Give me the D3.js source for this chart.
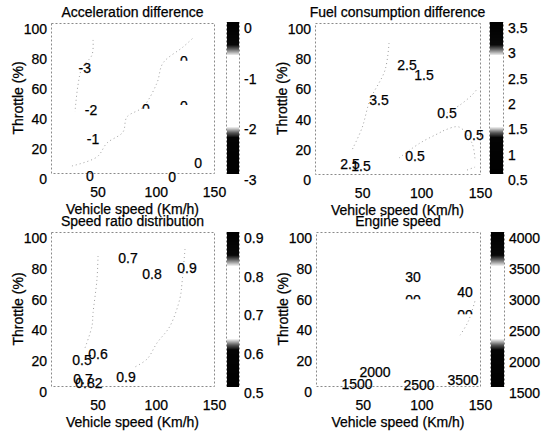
<!DOCTYPE html>
<html><head><meta charset="utf-8">
<script src="https://cdn.jsdelivr.net/npm/d3@7"></script>
<style>
html,body{margin:0;padding:0;background:#fff;}
svg{display:block;font-family:"Liberation Sans",Arial,Helvetica,sans-serif;}
</style></head>
<body><svg id="c" width="545" height="433"></svg>
<script>
// ---------- data ----------
const speedTicks = [50, 100, 150];
const throttleTicks = [0, 20, 40, 60, 80, 100];
const speedDomain = [10, 150];
const throttleDomain = [0, 100];

const titles = ["Acceleration difference", "Fuel consumption difference", "Speed ratio distribution", "Engine speed"];
const xLabel = "Vehicle speed (Km/h)";
const yLabel = "Throttle (%)";

// colour bar ranges and ticks
const cbDomainAcc = [-3, 0];
const cbTicksAcc = [0, -1, -2, -3];
const cbDomainFuel = [0.5, 3.5];
const cbTicksFuel = [3.5, 3, 2.5, 2, 1.5, 1, 0.5];
const cbDomainRatio = [0.5, 0.9];
const cbTicksRatio = [0.9, 0.8, 0.7, 0.6, 0.5];
const cbDomainEngine = [1500, 4000];
const cbTicksEngine = [4000, 3500, 3000, 2500, 2000, 1500];

// contour labels: [text, speed, throttle]
const labelsAcc = [["-3", 39, 70], ["-2", 44.4, 42], ["-1", 46.1, 22.7], ["0", 43.5, -2], ["0", 114, -2.7], ["0", 136.3, 6.7]];
const labelsAccCut = [["0", 91.6, 42.5], ["0", 124.2, 74.5], ["0", 124.2, 45]];
const labelsFuel = [["2.5", 88.1, 72.2], ["1.5", 102.5, 65.5], ["3.5", 64.3, 49], ["0.5", 122, 40.4], ["0.5", 144.9, 25.8], ["0.5", 94.9, 11.9], ["2.5", 39.7, 6.6], ["1.5", 49, 5.3]];
const labelsFuelCut = [];
const labelsRatio = [["0.7", 76.1, 83.1], ["0.8", 96.8, 72.7], ["0.9", 126.8, 76.6], ["0.5", 36.6, 16.9], ["0.6", 50.4, 20.8], ["0.7", 37.5, 4.5], ["0.82", 42.6, 1.9], ["0.9", 74.4, 5.8]];
const labelsRatioCut = [];
const labelsEngine = [["30", 92.8, 70.7], ["40", 137.2, 61], ["2000", 60.4, 9.1], ["1500", 45, 1.3], ["2500", 97.9, 0.6], ["3500", 135.5, 3.9]];
const labelsEngineCut = [["00", 92.8, 56], ["00", 137.2, 46.2]];

// faint contour lines: lists of [speed, throttle]
const linesAcc = [
  [[46.1, 88.7], [45.2, 78.7], [36.6, 70], [33.2, 58.7], [30.6, 40.7]],
  [[28, 4.7], [49.5, 10.7], [58.1, 20], [71.8, 27.3], [75.2, 37.3], [89, 44], [101, 60], [106.2, 73.3], [123.4, 84], [132, 90]]
];
const linesFuel = [
  [[72.8, 86.7], [69.4, 68.8], [56.7, 49], [49.9, 30.5], [41.4, 15.9]],
  [[81.3, 10.6], [99.1, 20.5], [115.2, 27.1], [120.3, 29.1], [132.2, 31.1], [143.2, 20.5], [145.8, 9.3]],
  [[122, 40.4], [133, 45.7], [143.2, 52.3], [148.3, 57]],
  [[139, 2.6], [145.8, 4.6]]
];
const linesRatio = [
  [[50.4, 84.4], [49.5, 69.4], [46.1, 47.4], [45.2, 38.9], [39.2, 24.7]],
  [[125.1, 88.9], [122.5, 66.8], [120.8, 57.1], [112.2, 38.9], [101, 27.9], [92.5, 17.5], [80.4, 11.7]]
];
const linesEngine = [
  [[133, 33], [140, 42], [146, 56]]
];

// ---------- layout ----------
const panels = [
  {title: titles[0], box: [51, 23, 214, 173], cb: [226, 22, 240, 174], cbDomain: cbDomainAcc, cbTicks: cbTicksAcc, labels: labelsAcc, cut: labelsAccCut, lines: linesAcc},
  {title: titles[1], box: [315, 23, 480, 174], cb: [489, 22, 504, 174], cbDomain: cbDomainFuel, cbTicks: cbTicksFuel, labels: labelsFuel, cut: labelsFuelCut, lines: linesFuel},
  {title: titles[2], box: [51, 232, 214, 386], cb: [226, 232, 240, 387], cbDomain: cbDomainRatio, cbTicks: cbTicksRatio, labels: labelsRatio, cut: labelsRatioCut, lines: linesRatio},
  {title: titles[3], box: [316, 232, 480, 386], cb: [490, 232, 505, 387], cbDomain: cbDomainEngine, cbTicks: cbTicksEngine, labels: labelsEngine, cut: labelsEngineCut, lines: linesEngine}
];

const svg = d3.select("#c");
const defs = svg.append("defs");
const gray = d3.scaleLinear()
  .domain([0, 0.24, 0.27, 0.31, 0.78, 0.82, 0.85, 1])
  .range(["#000", "#040404", "#555", "#f8f8f8", "#f8f8f8", "#666", "#080808", "#000"])
  .clamp(true);

const FS = 14;
const INK = "#000";
let clipId = 0;
function ink(sel) { return sel.attr("fill", INK).attr("stroke", INK).attr("stroke-width", 0.25); }

panels.forEach((p, pi) => {
  const [x0, y0, x1, y1] = p.box;
  const x = d3.scaleLinear().domain(speedDomain).range([x0, x1]);
  const y = d3.scaleLinear().domain(throttleDomain).range([y1, y0]);
  const g = svg.append("g");

  // plot frame
  g.append("rect").attr("x", x0 + 0.5).attr("y", y0 + 0.5).attr("width", x1 - x0).attr("height", y1 - y0)
    .attr("fill", "#fff").attr("stroke", "#8a8a8a").attr("stroke-width", 1).attr("stroke-dasharray", "2,2");

  // contour lines
  const line = d3.line().x(d => x(d[0])).y(d => y(d[1])).curve(d3.curveCatmullRom);
  g.selectAll("path.ct").data(p.lines).join("path").attr("class", "ct")
    .attr("d", line).attr("fill", "none").attr("stroke", "#a0a0a0").attr("stroke-width", 1)
    .attr("stroke-dasharray", "1,3");

  // contour labels
  g.selectAll("text.lab").data(p.labels).join("text").attr("class", "lab")
    .attr("x", d => x(d[1])).attr("y", d => y(d[2])).attr("dy", "0.36em")
    .attr("text-anchor", "middle").attr("font-size", FS).call(ink).text(d => d[0]);

  p.cut.forEach(d => {
    const id = "cut" + (clipId++);
    defs.append("clipPath").attr("id", id).append("rect")
      .attr("x", x(d[1]) - 20).attr("y", y(d[2]) - 12).attr("width", 40).attr("height", 11.5);
    g.append("text").attr("clip-path", `url(#${id})`)
      .attr("x", x(d[1])).attr("y", y(d[2])).attr("dy", "0.36em")
      .attr("text-anchor", "middle").attr("font-size", FS).call(ink).text(d[0]);
  });

  // axes
  const ax = g.append("g").attr("transform", `translate(0,${y1})`)
    .call(d3.axisBottom(x).tickValues(speedTicks).tickSize(0).tickPadding(14).tickFormat(d3.format("d")));
  ax.select(".domain").remove();
  ax.selectAll("text").attr("font-size", FS).call(ink).attr("font-family", null);

  const ay = g.append("g").attr("transform", `translate(${x0},0)`)
    .call(d3.axisLeft(y).tickValues(throttleTicks).tickSize(0).tickPadding(4).tickFormat(d3.format("d")));
  ay.select(".domain").remove();
  ay.selectAll("text").attr("font-size", FS).call(ink).attr("y", 6).attr("font-family", null);

  // titles and axis labels
  g.append("text").attr("x", (x0 + x1) / 2).attr("y", y0 - 6).attr("text-anchor", "middle")
    .attr("font-size", 14).call(ink).text(p.title);
  g.append("text").attr("x", (x0 + x1) / 2).attr("y", y1 + 41).attr("text-anchor", "middle")
    .attr("font-size", FS).call(ink).text(xLabel);
  g.append("text").attr("transform", `translate(${x0 - 28},${(y0 + y1) / 2}) rotate(-90)`)
    .attr("text-anchor", "middle").attr("font-size", FS).call(ink).text(yLabel);

  // colour bar (one row per pixel)
  const [c0, cy0, c1, cy1] = p.cb;
  const cy = d3.scaleLinear().domain(p.cbDomain).range([cy1, cy0]);
  const [lo, hi] = p.cbDomain;
  const rows = d3.range(cy0, cy1);
  g.append("rect").attr("x", c0 + 0.5).attr("y", cy0 + 0.5).attr("width", c1 - c0 - 1).attr("height", cy1 - cy0 - 1)
    .attr("fill", "#fff").attr("stroke", "#8a8a8a").attr("stroke-dasharray", "2,2");
  g.selectAll("rect.cb").data(rows.map(r => cy.invert(r + 0.5))).join("rect").attr("class", "cb")
    .attr("shape-rendering", "crispEdges")
    .attr("x", c0 + 1).attr("width", c1 - c0 - 2)
    .attr("y", d => Math.floor(cy(d))).attr("height", 1)
    .attr("fill", d => gray((d - lo) / (hi - lo)))
    .attr("fill-opacity", d => { const t = (d - lo) / (hi - lo); return (t > 0.31 && t < 0.78) ? 0 : 1; });
  const ac = g.append("g").attr("transform", `translate(${c1},0)`)
    .call(d3.axisRight(cy).tickValues(p.cbTicks).tickSize(0).tickPadding(4).tickFormat(d => String(d)));
  ac.select(".domain").remove();
  ac.selectAll("text").attr("font-size", FS).call(ink).attr("y", 6).attr("font-family", null);
});
</script>
</body></html>
